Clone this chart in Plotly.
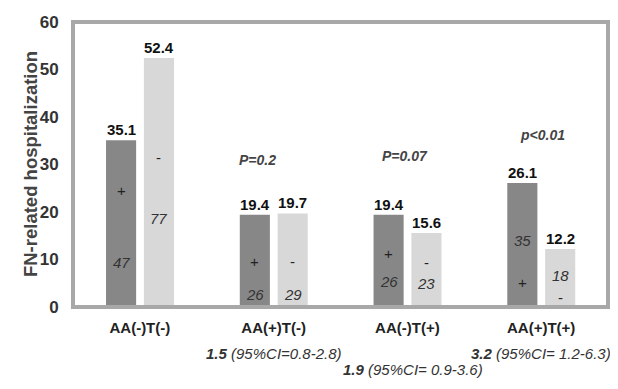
import plotly.graph_objects as go

categories = ["AA(-)T(-)", "AA(+)T(-)", "AA(-)T(+)", "AA(+)T(+)"]
plus_values = [35.1, 19.4, 19.4, 26.1]
minus_values = [52.4, 19.7, 15.6, 12.2]
plus_n = ["47", "26", "26", "35"]
minus_n = ["77", "29", "23", "18"]
# positions (data units) of the in-bar sign and count labels
plus_sign_y = [24.5, 9.6, 11.3, 5.2]
plus_n_y = [9.3, 2.7, 5.4, 14.0]
minus_sign_y = [31.5, 9.6, 9.4, 2.1]
minus_n_y = [18.6, 2.7, 5.0, 6.7]
p_labels = ["P=0.2", "P=0.07", "p<0.01"]
p_x = [0.88, 1.98, 3.01]
p_y = [31.0, 31.8, 36.2]
or_bold = ["1.5", "1.9", "3.2"]
or_ci = [" (95%CI=0.8-2.8)", " (95%CI= 0.9-3.6)", " (95%CI= 1.2-6.3)"]
or_x = [1.0, 2.04, 3.0]
or_y = [-0.2, -0.257, -0.2]

FONT = "Liberation Sans, Arial, sans-serif"
DARK = "#878787"
LIGHT = "#d8d8d8"
FRAME = "#a8a8a8"
W = 0.225
xs = list(range(len(categories)))
X_RANGE = [-0.5, 3.5]
Y_RANGE = [0, 60]

fig = go.Figure()
fig.add_bar(x=xs, y=plus_values, width=W, offset=-0.253, marker=dict(color=DARK, line=dict(width=0)), showlegend=False)
fig.add_bar(x=xs, y=minus_values, width=W, offset=0.03, marker=dict(color=LIGHT, line=dict(width=0)), showlegend=False)

# plot frame (about 2 px thick) drawn as thin filled bars along the edges of the axis ranges
fx = 2.0 / 133.75
fy = 2.0 / 4.75
fig.add_bar(x=[X_RANGE[0], X_RANGE[1]], y=[Y_RANGE[1], Y_RANGE[1]], width=fx, offset=[0, -fx],
            marker=dict(color=FRAME, line=dict(width=0)), showlegend=False, hoverinfo="skip")
fig.add_bar(orientation="h", y=[Y_RANGE[0], Y_RANGE[1]], x=[X_RANGE[1] - X_RANGE[0]] * 2, base=X_RANGE[0],
            width=fy, offset=[0, -fy], marker=dict(color=FRAME, line=dict(width=0)), showlegend=False,
            hoverinfo="skip")

ann = []
dx_p = -0.253 + W / 2
dx_m = 0.03 + W / 2
for i in xs:
    ann.append(dict(x=i + dx_p, y=plus_values[i], text="<b>%.1f</b>" % plus_values[i], yanchor="bottom",
                    showarrow=False, font=dict(size=15, color="#111")))
    ann.append(dict(x=i + dx_m, y=minus_values[i], text="<b>%.1f</b>" % minus_values[i], yanchor="bottom",
                    showarrow=False, font=dict(size=15, color="#111")))
    ann.append(dict(x=i + dx_p, y=plus_sign_y[i], text="+", showarrow=False, font=dict(size=15, color="#222")))
    ann.append(dict(x=i + dx_m, y=minus_sign_y[i], text="-", showarrow=False, font=dict(size=15, color="#222")))
    ann.append(dict(x=i + dx_p, y=plus_n_y[i], text="<i>%s</i>" % plus_n[i], showarrow=False, font=dict(size=15, color="#333")))
    ann.append(dict(x=i + dx_m, y=minus_n_y[i], text="<i>%s</i>" % minus_n[i], showarrow=False, font=dict(size=15, color="#333")))
for k in range(len(p_labels)):
    ann.append(dict(x=p_x[k], y=p_y[k], text="<b><i>%s</i></b>" % p_labels[k], showarrow=False,
                    font=dict(size=14, color="#444")))
for k in range(len(or_bold)):
    ann.append(dict(x=or_x[k], y=or_y[k], yref="paper", text="<b><i>%s</i></b><i>%s</i>" % (or_bold[k], or_ci[k]),
                    showarrow=False, font=dict(size=15, color="#333")))
ann.append(dict(x=-0.103, xref="paper", y=0.503, yref="paper", text="<b>FN-related hospitalization</b>",
                textangle=-90, showarrow=False, font=dict(size=18.5, color="#444")))

# the page body adds an 8px margin, so the figure is 8px smaller on each leading side
fig.update_layout(
    width=610, height=381,
    margin=dict(l=65, r=10, t=14, b=82),
    paper_bgcolor="white", plot_bgcolor="white",
    font=dict(family=FONT),
    barmode="overlay",
    annotations=ann,
    xaxis=dict(range=X_RANGE, tickvals=xs, ticktext=["<b>%s</b>" % c for c in categories],
               tickfont=dict(size=15, color="#222"), showgrid=False, zeroline=False, automargin=False,
               showline=True, linecolor=FRAME, linewidth=2, mirror=True, ticks="", ticklabelstandoff=6),
    yaxis=dict(range=Y_RANGE, tickfont=dict(size=17, color="#333"),
               tickvals=[0, 10, 20, 30, 40, 50, 60], ticktext=["<b>%d</b>" % v for v in range(0, 70, 10)],
               showgrid=False, zeroline=False, showline=True, linecolor=FRAME, linewidth=2, mirror=True,
               ticks="", ticklabelstandoff=9, automargin=False),
)

fig.write_html("out.html")
